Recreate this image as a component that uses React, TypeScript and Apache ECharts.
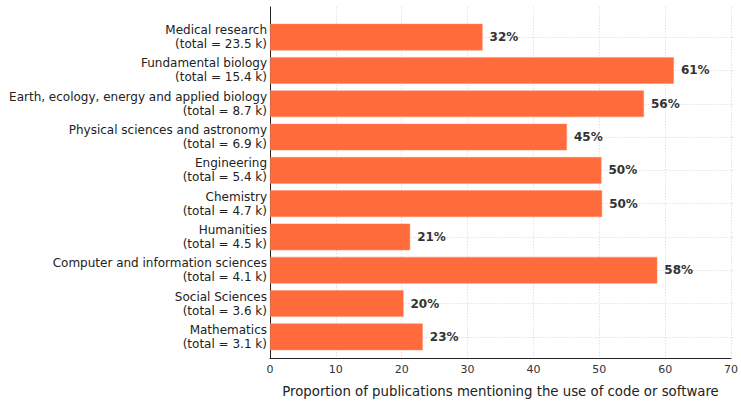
import React, { useEffect, useRef } from "react";
import * as echarts from "echarts";

const categories = [
  "Medical research\n(total = 23.5 k)",
  "Fundamental biology\n(total = 15.4 k)",
  "Earth, ecology, energy and applied biology\n(total = 8.7 k)",
  "Physical sciences and astronomy\n(total = 6.9 k)",
  "Engineering\n(total = 5.4 k)",
  "Chemistry\n(total = 4.7 k)",
  "Humanities\n(total = 4.5 k)",
  "Computer and information sciences\n(total = 4.1 k)",
  "Social Sciences\n(total = 3.6 k)",
  "Mathematics\n(total = 3.1 k)",
];
const values = [32.0, 60.8, 56.3, 44.7, 49.9, 50.0, 21.1, 58.3, 20.1, 23.0];
const xTicks = [0, 10, 20, 30, 40, 50, 60, 70];

const FONT = "DejaVu Sans";

export default function App() {
  const ref = useRef<HTMLDivElement>(null);
  useEffect(() => {
    if (!ref.current) return;
    const chart = echarts.init(ref.current, null, { renderer: "svg" });
    chart.setOption({
      animation: false,
      textStyle: { fontFamily: FONT },
      grid: [
        { left: 270, right: 6, top: 7, bottom: 36, containLabel: false },
        { left: 270, right: 6, top: 20.5, bottom: 49.5, containLabel: false },
      ],
      xAxis: [
        {
          gridIndex: 0,
          type: "value",
          min: xTicks[0],
          max: xTicks[xTicks.length - 1],
          interval: 10,
          axisLine: { show: true, lineStyle: { color: "#222", width: 1 } },
          axisTick: { show: false },
          axisLabel: { color: "#333", fontSize: 11, margin: 6, fontFamily: FONT },
          splitLine: { show: true, lineStyle: { color: "#e2e2e2", type: [1.5, 1.5], width: 1 } },
          name: "Proportion of publications mentioning the use of code or software",
          nameLocation: "middle",
          nameGap: 27,
          nameTextStyle: { color: "#222", fontSize: 13.3, fontFamily: FONT },
        },
        {
          gridIndex: 1,
          type: "value",
          min: 0,
          max: 70,
          interval: 10,
          show: false,
        },
      ],
      yAxis: [
        {
          gridIndex: 0,
          type: "value",
          min: 0,
          max: 1,
          axisLine: { show: true, onZero: false, lineStyle: { color: "#222", width: 1 } },
          axisTick: { show: false },
          axisLabel: { show: false },
          splitLine: { show: false },
        },
        {
          gridIndex: 1,
          type: "category",
          inverse: true,
          data: categories,
          axisLine: { show: false },
          axisTick: { show: false },
          axisLabel: {
            color: "#222",
            fontSize: 12,
            lineHeight: 14,
            margin: 3,
            align: "right",
            padding: [4, 0, 0, 0],
            fontFamily: FONT,
          },
          splitLine: { show: false },
        },
      ],
      series: [
        {
          type: "bar",
          xAxisIndex: 1,
          yAxisIndex: 1,
          data: values,
          barCategoryGap: "20%",
          itemStyle: { color: "#FF6B3B", borderColor: "#FF8A62", borderWidth: 0.5 },
          label: {
            show: true,
            position: "right",
            distance: 7,
            formatter: (p: any) => Math.round(p.value) + "%",
            color: "#333",
            fontWeight: "bold",
            fontSize: 12,
            fontFamily: FONT,
          },
          markLine: {
            silent: true,
            symbol: "none",
            label: { show: false },
            lineStyle: { color: "#e2e2e2", type: [1.5, 1.5], width: 1 },
            data: categories.map((c) => ({ yAxis: c })),
            z: 0,
          },
        },
      ],
    });
    return () => chart.dispose();
  }, []);
  return (
    <div
      ref={ref}
      style={{ position: "absolute", left: 0, top: 0, width: 741, height: 403 }}
    />
  );
}
